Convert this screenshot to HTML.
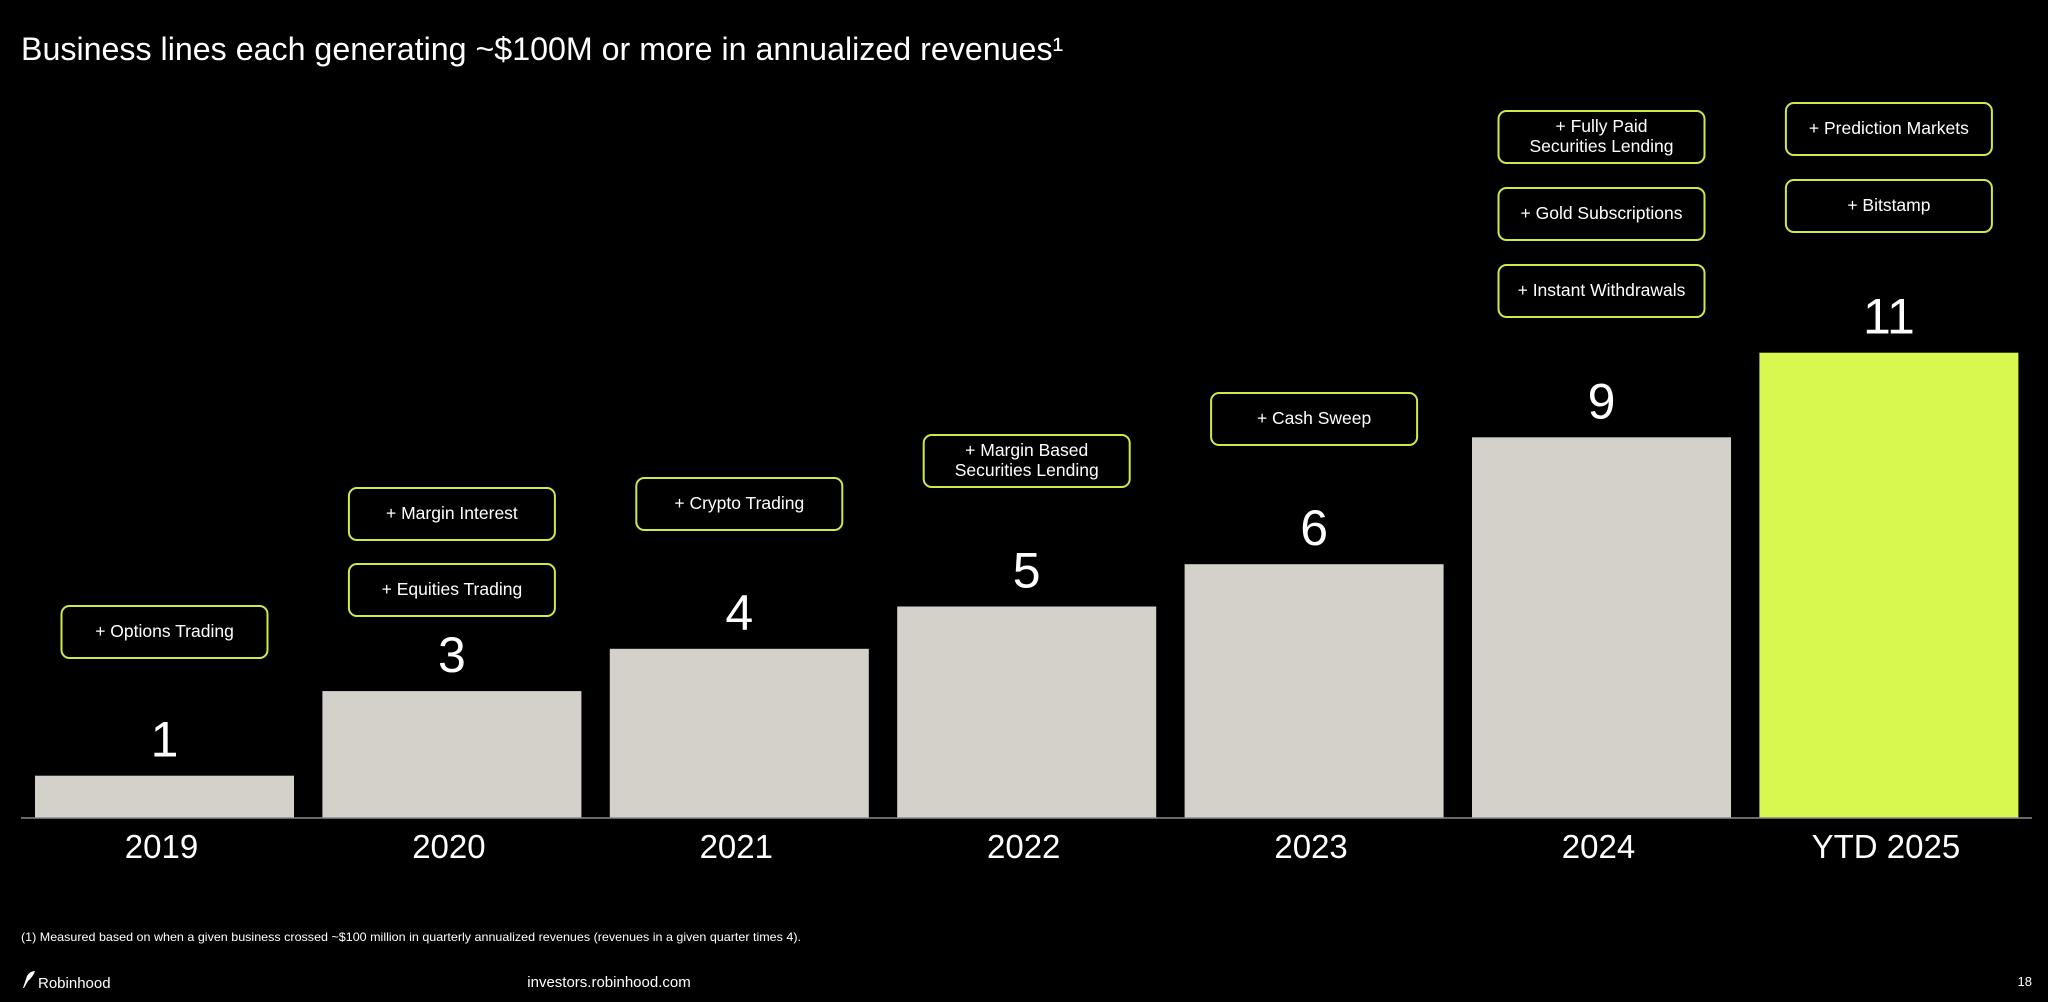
<!DOCTYPE html>
<html><head><meta charset="utf-8">
<style>
html,body{margin:0;padding:0;background:#000;}
svg{display:block;font-family:"Liberation Sans",Arial,sans-serif;}
</style></head>
<body>
<svg id="chart" width="2048" height="1002" viewBox="0 0 2048 1002" xmlns="http://www.w3.org/2000/svg">
<rect width="2048" height="1002" fill="#000"/>
<text x="21" y="60" fill="#fff" font-size="32.2">Business lines each generating ~$100M or more in annualized revenues¹</text>
<g id="annotations"></g>
<g id="bars"></g>
<line x1="21" y1="818" x2="2032" y2="818" stroke="#8a8a8a" stroke-width="1.5"/>
<text x="21" y="941" fill="#fff" font-size="12" textLength="780" lengthAdjust="spacingAndGlyphs">(1) Measured based on when a given business crossed ~$100 million in quarterly annualized revenues (revenues in a given quarter times 4).</text>
<g>
<path d="M23 988 L27 976 Q30 971 35 971 Q33 977 28 981 L24 988 Z" fill="#fff"/>
<text x="38" y="988" fill="#fff" font-size="15">Robinhood</text>
</g>
<text x="609" y="987" fill="#fff" font-size="15" text-anchor="middle">investors.robinhood.com</text>
<text x="2032" y="986" fill="#fff" font-size="13" text-anchor="end">18</text>
</svg>
<script>
const categories = ["2019","2020","2021","2022","2023","2024","YTD 2025"];
const values = [1,3,4,5,6,9,11];
const annotationLabels = [
  [["+ Options Trading"]],
  [["+ Margin Interest"],["+ Equities Trading"]],
  [["+ Crypto Trading"]],
  [["+ Margin Based","Securities Lending"]],
  [["+ Cash Sweep"]],
  [["+ Fully Paid","Securities Lending"],["+ Gold Subscriptions"],["+ Instant Withdrawals"]],
  [["+ Prediction Markets"],["+ Bitstamp"]]
];
const annotationTops = [[606],[488,564],[478],[435],[393],[111,188,265],[103,180]];

const NS = "http://www.w3.org/2000/svg";
const baseY = 818, unit = 42.3, x0 = 35, step = 287.4, barW = 259;
function xPos(i){ return x0 + i*step; }
function yPos(v){ return baseY - v*unit; }
const barsG = document.getElementById('bars');
const annG = document.getElementById('annotations');
function mk(tag, attrs){ const e=document.createElementNS(NS,tag); for(const k in attrs) e.setAttribute(k,attrs[k]); return e; }

categories.forEach((c,i)=>{
  const v = values[i];
  const r = mk('rect',{x:xPos(i),y:yPos(v),width:barW,height:baseY-yPos(v),fill:i===categories.length-1?'#d9f84f':'#d4d1ca'});
  
  
  barsG.appendChild(r);
  const vt = mk('text',{x:xPos(i)+barW/2,y:yPos(v)-19,fill:'#fff','font-size':50,'text-anchor':'middle'});
  vt.textContent = v;
  
  
  barsG.appendChild(vt);
  const xt = mk('text',{x:xPos(i)+barW/2-3,y:858,fill:'#fff','font-size':33,'text-anchor':'middle'});
  xt.textContent = c;
  
  
  barsG.appendChild(xt);
  annotationLabels[i].forEach((lines,j)=>{
    const top = annotationTops[i][j];
    const g = mk('g',{});
    
    
    const cx = xPos(i)+barW/2;
    g.appendChild(mk('rect',{x:cx-103,y:top,width:206,height:52,rx:8,fill:'#000',stroke:'#cdea49','stroke-width':2}));
    lines.forEach((ln,k)=>{
      const t = mk('text',{x:cx,y:top+(lines.length===1?31:21+k*20),fill:'#fff','font-size':17.5,'text-anchor':'middle'});
      t.textContent = ln;
      g.appendChild(t);
    });
    annG.appendChild(g);
  });
});
</script>
</body></html>
